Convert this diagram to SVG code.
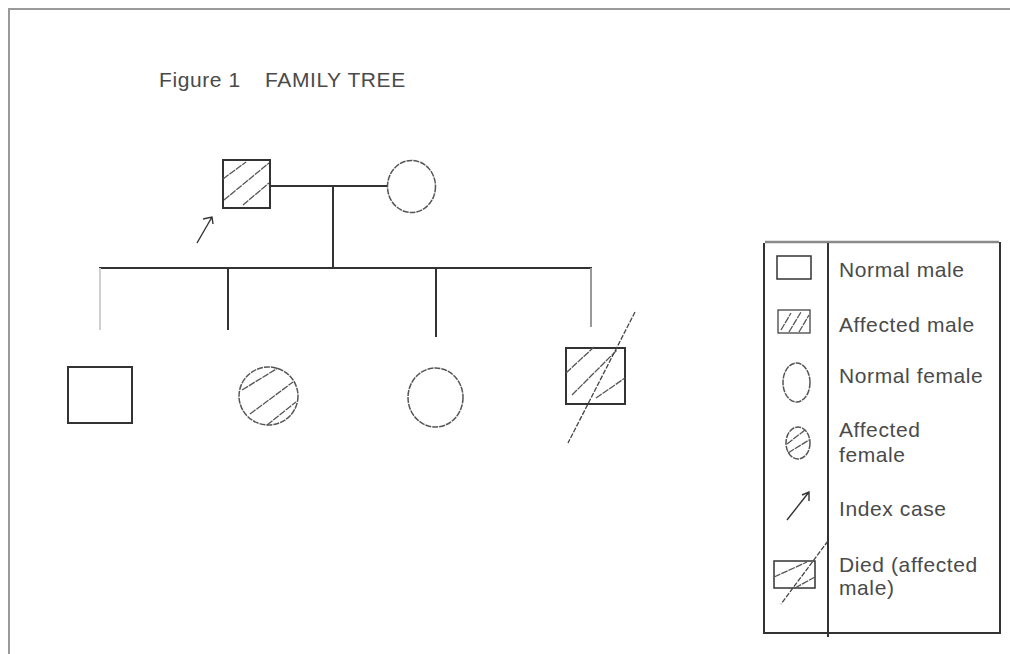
<svg xmlns="http://www.w3.org/2000/svg" width="1010" height="654" viewBox="0 0 1010 654">
  <style>
    .frame { stroke: #9a9a9a; stroke-width: 2; fill: none; }
    .line { stroke: #333; stroke-width: 2; fill: none; }
    .thin { stroke: #333; stroke-width: 1.4; fill: none; }
    .male { stroke: #333; stroke-width: 2; fill: #fff; }
    .female { stroke: #555; stroke-width: 1.5; fill: #fff; stroke-dasharray: 6 1; }
    .hatch { stroke: #555; stroke-width: 1.3; fill: none; stroke-dasharray: 7 1; }
    .slash { stroke: #444; stroke-width: 1.3; fill: none; stroke-dasharray: 5 1.5; }
    .label { font-family: "Liberation Sans", Arial, sans-serif; font-size: 21px; fill: #4a4a4a; letter-spacing: 0.6px; }
  </style>

  <rect width="1010" height="654" fill="#fff"/>

  <!-- page frame -->
  <path class="frame" d="M8 9 H1010 M9 9 V654"/>

  <text class="label" x="159" y="87" xml:space="preserve">Figure 1   <tspan x="265">FAMILY TREE</tspan></text>

  <!-- connectors -->
  <g id="connectors">
    <path class="line" d="M270 186 H388"/>
    <path class="line" d="M333 186 V268"/>
    <path class="line" d="M99 268 H592"/>
    <path d="M100 268 V330" stroke="#cfcfcf" stroke-width="2"/>
    <path class="line" d="M228 268 V330"/>
    <path class="line" d="M436 268 V337"/>
    <path d="M591 268 V327" stroke="#999" stroke-width="2"/>
  </g>

  <!-- father: affected male, index case -->
  <g id="father">
    <rect class="male" x="223" y="160" width="47" height="48"/>
    <path class="hatch" d="M223 179 L246 162 M224 200 L269 163 M243 205 L269 183"/>
  </g>
  <g id="index-arrow">
    <path class="thin" d="M197 243 L212 217 M203 219 L212 217 L213 224"/>
  </g>

  <!-- mother: normal female -->
  <g id="mother">
    <ellipse class="female" cx="411.5" cy="186.5" rx="24" ry="26"/>
  </g>

  <!-- children -->
  <g id="son1">
    <rect class="male" x="68" y="367" width="64" height="56"/>
  </g>
  <g id="daughter1">
    <ellipse class="female" cx="268.5" cy="396" rx="29.5" ry="29"/>
    <path class="hatch" d="M242 390 L278 368 M250 414 L293 382 M267 425 L296 402"/>
  </g>
  <g id="daughter2">
    <ellipse class="female" cx="435.5" cy="397.5" rx="27.5" ry="29.5"/>
  </g>
  <g id="son2">
    <rect class="male" x="566" y="348" width="59" height="56"/>
    <path class="hatch" d="M566 373 L594 347 M572 395 L617 350 M596 398 L625 378"/>
    <path class="slash" d="M635 312 L568 443"/>
  </g>

  <!-- legend -->
  <g id="legend">
    <path d="M765 242 H999" stroke="#8a8a8a" stroke-width="2.5"/>
    <path class="line" d="M764 243 V633 H1000 V242"/>
    <path class="line" d="M828 243 V637"/>

    <g id="key-normal-male">
      <rect x="777" y="256" width="34" height="23" fill="#fff" stroke="#333" stroke-width="1.5"/>
      <text class="label" x="839" y="277">Normal male</text>
    </g>
    <g id="key-affected-male">
      <rect x="778" y="310" width="32" height="23" fill="#fff" stroke="#444" stroke-width="1.3"/>
      <path class="hatch" d="M781 330 L791 313 M789 332 L801 312 M799 332 L809 315"/>
      <text class="label" x="839" y="332">Affected male</text>
    </g>
    <g id="key-normal-female">
      <ellipse class="female" cx="796.5" cy="382.5" rx="13.5" ry="19.5" stroke-width="1.3"/>
      <text class="label" x="839" y="383">Normal female</text>
    </g>
    <g id="key-affected-female">
      <ellipse class="female" cx="798" cy="443" rx="12" ry="16" stroke-width="1.3"/>
      <path class="hatch" d="M787 444 L805 430 M788 453 L809 440"/>
      <text class="label" x="839" y="437">Affected</text>
      <text class="label" x="839" y="462">female</text>
    </g>
    <g id="key-index-case">
      <path class="thin" d="M787 520 L809 492 M802 495 L809 492 L809 501"/>
      <text class="label" x="839" y="516">Index case</text>
    </g>
    <g id="key-died">
      <rect x="774" y="561" width="41" height="27" fill="#fff" stroke="#333" stroke-width="1.5"/>
      <path class="hatch" d="M774 577 L807 562 M795 588 L815 577"/>
      <path class="slash" d="M828 541 L781 604"/>
      <text class="label" x="839" y="572">Died (affected</text>
      <text class="label" x="839" y="595">male)</text>
    </g>
  </g>
</svg>
